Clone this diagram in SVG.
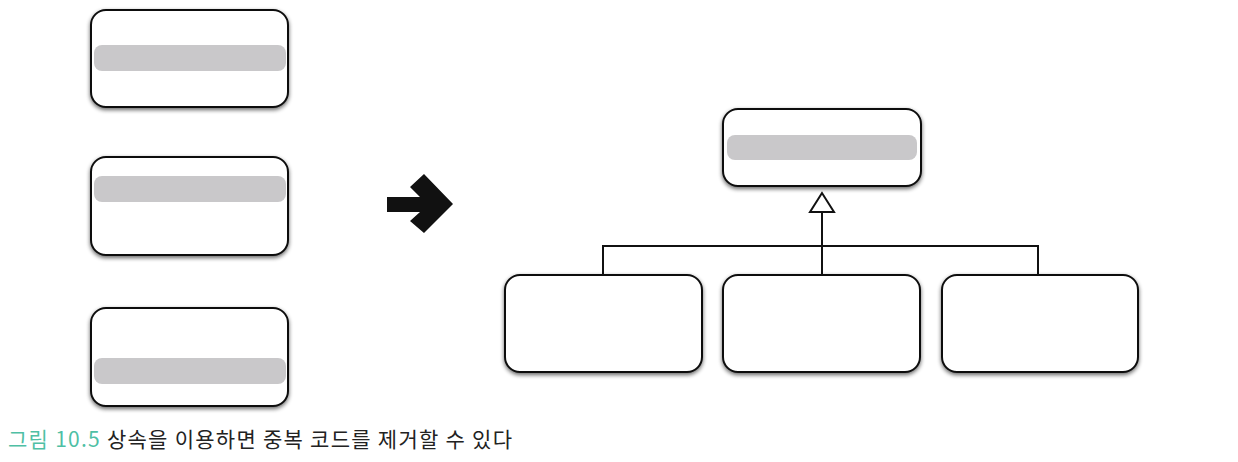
<svg xmlns="http://www.w3.org/2000/svg" width="1238" height="462" viewBox="0 0 1238 462">
<style>
.box{fill:#fff;stroke:#111;stroke-width:2;filter:url(#sh)}
.bar{fill:#c9c8ca}
.line{stroke:#111;stroke-width:2;fill:none}
.cap{font-family:"Noto Sans CJK KR","Noto Sans",sans-serif;font-size:21px;fill:#222}
.num{fill:#4fbfa5}
</style>
<defs>
<filter id="sh" x="-10%" y="-10%" width="120%" height="125%">
<feGaussianBlur in="SourceAlpha" stdDeviation="2.2"/>
<feOffset dx="0" dy="2" result="b"/>
<feComponentTransfer><feFuncA type="linear" slope="0.6"/></feComponentTransfer>
<feMerge><feMergeNode/><feMergeNode in="SourceGraphic"/></feMerge>
</filter>
</defs>
<rect width="1238" height="462" fill="#fff"/>
<g id="left1"><rect class="box" x="91" y="10" width="197" height="97" rx="15"/><rect class="bar" x="94" y="45" width="192" height="26" rx="8"/></g>
<g id="left2"><rect class="box" x="91" y="157" width="197" height="98" rx="15"/><rect class="bar" x="94" y="176" width="192" height="26" rx="8"/></g>
<g id="left3"><rect class="box" x="91" y="308" width="197" height="98" rx="15"/><rect class="bar" x="94" y="358" width="192" height="26" rx="8"/></g>
<g id="bigarrow"><polygon points="387,197 420,197 410,187 424,174 453,204 424,233 410,221 420,212 387,212" fill="#111"/></g>
<g id="parent"><rect class="box" x="723" y="109" width="198" height="77" rx="15"/><rect class="bar" x="727" y="135" width="190" height="25" rx="8"/></g>
<g id="child1"><rect class="box" x="505" y="275" width="197" height="97" rx="15"/></g>
<g id="child2"><rect class="box" x="723" y="275" width="197" height="97" rx="15"/></g>
<g id="child3"><rect class="box" x="942" y="275" width="196" height="97" rx="15"/></g>
<g id="connectors">
<polyline class="line" points="603,275 603,246 1038,246 1038,275"/>
<line class="line" x1="822" y1="275" x2="822" y2="212"/>
<polygon points="822,193 810,212 834,212" fill="#fff" stroke="#111" stroke-width="2"/>
</g>
<text class="cap" x="8" y="447" textLength="504" lengthAdjust="spacing"><tspan class="num">그림 10.5</tspan> 상속을 이용하면 중복 코드를 제거할 수 있다</text>
</svg>
